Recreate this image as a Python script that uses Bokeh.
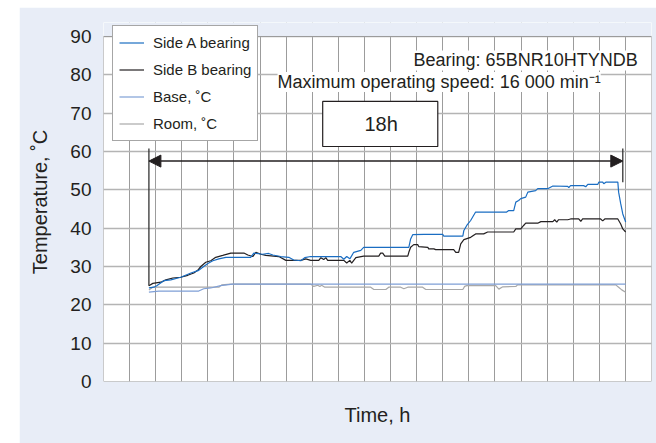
from bokeh.plotting import figure
from bokeh.models import (FixedTicker, Label, Arrow, NormalHead, BoxAnnotation,
                          Legend, LegendItem, Spacer, Range1d)
from bokeh.layouts import row, column
from bokeh.embed import file_html
from bokeh.resources import INLINE

# ---------------- data (time in h, temperature in deg C) ----------------
side_a_t = [1.74, 1.93, 2.04, 2.31, 2.58, 2.96, 3.35, 3.65, 3.84, 4.00,
            4.19, 4.42, 4.69, 5.64, 5.76, 6.10, 6.33, 6.49, 6.79, 7.10,
            7.29, 7.56, 7.71, 7.94, 9.09, 9.21, 9.32, 9.44, 9.59, 9.86,
            9.97, 11.70, 11.77, 11.85, 12.27, 13.00, 13.04, 13.77, 13.81, 13.92,
            14.07, 14.26, 15.45, 15.53, 15.72, 15.80, 15.91, 15.99, 16.18, 16.26,
            16.56, 16.64, 17.02, 17.22, 17.79, 17.83, 17.90, 18.40, 18.48, 18.56,
            18.94, 18.98, 19.13, 19.17, 19.25, 19.71, 19.74, 19.82, 19.90, 20.01]
side_a = [24.4, 24.6, 25.0, 26.3, 26.5, 27.2, 28.3, 29.0, 30.0, 30.8,
          31.5, 32.0, 32.4, 32.4, 33.5, 33.2, 33.4, 33.0, 32.6, 32.4,
          31.7, 31.5, 32.3, 32.6, 32.6, 31.9, 32.6, 32.0, 33.7, 34.2,
          35.0, 35.0, 37.2, 38.3, 38.4, 38.4, 37.9, 37.9, 39.4, 40.7,
          42.0, 44.2, 44.2, 44.6, 44.6, 46.8, 47.2, 47.7, 48.1, 49.4,
          49.8, 50.3, 50.3, 51.0, 50.9, 50.6, 51.1, 51.1, 50.8, 51.4,
          51.4, 52.0, 52.0, 51.6, 52.0, 52.0, 49.4, 46.4, 43.7, 41.6]

side_b_t = [1.74, 1.89, 2.20, 2.39, 2.66, 2.96, 3.23, 3.46, 3.61, 3.73,
            3.92, 4.11, 4.30, 4.57, 4.88, 5.38, 5.53, 5.72, 5.84, 6.03,
            6.22, 6.72, 6.99, 7.56, 7.75, 7.94, 8.25, 8.33, 8.44, 8.52,
            8.59, 9.21, 9.32, 9.44, 9.51, 9.67, 9.97, 10.55, 10.62, 10.70,
            10.78, 11.66, 11.70, 11.77, 11.89, 12.04, 12.08, 12.43, 12.46, 12.66,
            12.73, 13.42, 13.50, 13.61, 13.69, 13.81, 14.07, 14.26, 14.57, 14.72,
            15.72, 15.80, 15.99, 16.10, 16.18, 16.64, 16.76, 17.22, 17.29, 17.37,
            17.44, 17.79, 17.90, 18.21, 18.29, 18.36, 19.05, 19.13, 19.21, 19.71,
            19.82, 19.90, 20.01]
side_b = [25.0, 25.6, 25.9, 26.5, 27.0, 27.2, 27.7, 28.3, 29.0, 30.0,
          31.1, 31.5, 32.4, 32.9, 33.5, 33.5, 33.0, 32.6, 33.7, 33.2,
          32.9, 32.6, 31.6, 31.6, 32.0, 31.6, 31.6, 32.3, 31.8, 32.3,
          31.6, 31.6, 30.9, 31.6, 30.9, 32.3, 32.7, 32.7, 33.5, 33.5,
          32.7, 32.7, 33.7, 35.0, 35.7, 35.7, 35.2, 35.0, 34.6, 34.6,
          34.4, 34.4, 33.7, 33.7, 35.9, 37.0, 37.6, 38.5, 38.5, 39.0,
          39.0, 39.8, 39.8, 40.7, 41.3, 41.3, 41.7, 41.7, 42.2, 41.6,
          42.2, 42.2, 42.4, 42.4, 41.8, 42.4, 42.4, 41.9, 42.4, 42.4,
          41.1, 39.8, 39.0]

base_t = [1.74, 2.12, 3.65, 3.84, 4.11, 4.49, 4.95, 20.01]
base = [23.3, 23.6, 23.6, 24.2, 24.4, 25.0, 25.4, 25.4]

room_t = [1.74, 1.89, 4.42, 4.53, 4.88, 7.94, 8.06, 8.21, 8.29, 8.36,
          8.48, 10.24, 10.36, 10.82, 10.93, 11.39, 11.51, 11.66, 12.23, 12.35,
          13.77, 13.84, 13.92, 15.03, 15.15, 15.30, 15.80, 15.87, 19.63, 19.74,
          19.86, 20.01]
room = [23.9, 24.6, 24.6, 25.2, 25.4, 25.4, 24.8, 25.1, 24.8, 25.1,
        24.6, 24.6, 24.0, 24.0, 24.6, 24.6, 24.2, 24.6, 24.6, 24.0,
        24.0, 24.8, 25.0, 25.0, 24.1, 24.7, 24.8, 25.2, 25.2, 24.6,
        23.9, 23.3]

y_ticks = [0, 10, 20, 30, 40, 50, 60, 70, 80, 90]
y_min, y_max = 0, 90
x_min, x_max = 0, 21
x_grid = list(range(x_min, x_max + 1))
test_start, test_end = 1.74, 19.90
duration_label = "18h"

# ---------------- figure ----------------
TXT = "#231f20"
FONT = "Liberation Sans"
PANEL = "#e8edf7"

# the frame reaches a little above 90 so that the legend box (which sits
# over the top edge of the chart in the original) is not clipped; the
# strip above 90 is painted with the panel colour.
p = figure(width=637, height=436, output_backend="svg", toolbar_location=None,
           x_range=Range1d(x_min, x_max), y_range=Range1d(y_min, 93.65),
           min_border_left=84, min_border_right=5, min_border_top=15,
           min_border_bottom=62)
p.border_fill_color = PANEL
p.background_fill_color = "white"
p.outline_line_color = None

xa = p.xaxis[0]
xa.ticker = FixedTicker(ticks=[])
xa.axis_line_color = None
xa.major_tick_line_color = None
xa.minor_tick_line_color = None
xa.major_tick_out = 0
xa.major_tick_in = 0
xa.major_label_standoff = 0
xa.axis_label = "Time, h"
xa.axis_label_standoff = 22
xa.axis_label_text_font = FONT
xa.axis_label_text_font_size = "20px"
xa.axis_label_text_font_style = "normal"
xa.axis_label_text_color = TXT

p.xgrid.ticker = FixedTicker(ticks=x_grid)
p.xgrid.grid_line_color = "#9c9c9c"
p.xgrid.grid_line_width = 1
p.ygrid.grid_line_color = "#b4b4b4"
p.ygrid.grid_line_width = 1.5

ya = p.yaxis[0]
ya.ticker = FixedTicker(ticks=y_ticks)
ya.axis_line_color = None
ya.major_tick_line_color = None
ya.minor_tick_line_color = None
ya.major_tick_out = 0
ya.major_tick_in = 0
ya.major_label_standoff = 12
ya.major_label_text_font = FONT
ya.major_label_text_font_size = "19px"
ya.major_label_text_color = TXT
ya.axis_label = "Temperature, \u02daC"
ya.axis_label_standoff = 16
ya.axis_label_text_font = FONT
ya.axis_label_text_font_size = "20px"
ya.axis_label_text_font_style = "normal"
ya.axis_label_text_color = TXT

# lines
r_room = p.line(room_t, room, line_color="#a8a8a8", line_width=1.2)
r_base = p.line(base_t, base, line_color="#7f9fd6", line_width=1.2)
r_b = p.line(side_b_t, side_b, line_color=TXT, line_width=1.2)
r_a = p.line(side_a_t, side_a, line_color="#1a6dc2", line_width=1.2)

# cover strip above the top of the chart + chart outline
p.add_layout(BoxAnnotation(bottom=y_max, fill_color=PANEL, fill_alpha=1.0,
                           line_color=None))
p.add_layout(BoxAnnotation(left=x_min, right=x_max, bottom=y_min, top=y_max,
                           fill_alpha=0.0, line_color="#9a9a9a",
                           line_width=1, line_alpha=1.0))

# 18 h bracket
p.segment(x0=[test_start, test_end], y0=[60.8, 60.8],
          x1=[test_start, test_end], y1=[side_b[0], max(side_a)],
          line_color="#333333", line_width=1.3)
p.add_layout(Arrow(x_start=test_start, y_start=57.5, x_end=test_end, y_end=57.5,
                   line_color=TXT, line_width=1.5,
                   start=NormalHead(size=12, fill_color=TXT, line_color=TXT),
                   end=NormalHead(size=12, fill_color=TXT, line_color=TXT)))
p.add_layout(BoxAnnotation(left=8.40, right=12.81, bottom=61.3, top=73.05,
                           fill_color="white", fill_alpha=1.0,
                           line_color=TXT, line_width=1.2, line_alpha=1.0))
p.add_layout(Label(x=10.64, y=67.05, text=duration_label, text_align="center",
                   text_baseline="middle", text_font=FONT,
                   text_font_size="20px", text_color=TXT))

# annotations
p.add_layout(Label(x=20.47, y=83.75, text="Bearing: 65BNR10HTYNDB",
                   text_align="right", text_baseline="alphabetic",
                   text_font=FONT, text_font_size="18px", text_color=TXT,
                   background_fill_color="white", background_fill_alpha=1.0))
p.add_layout(Label(x=6.67, y=78.1, text="Maximum operating speed: 16 000 min\u207b\u00b9",
                   text_align="left", text_baseline="alphabetic",
                   text_font=FONT, text_font_size="18px", text_color=TXT,
                   background_fill_color="white", background_fill_alpha=1.0))

# legend
legend = Legend(items=[LegendItem(label="Side A bearing", renderers=[r_a]),
                       LegendItem(label="Side B bearing", renderers=[r_b]),
                       LegendItem(label="Base, \u02daC", renderers=[r_base]),
                       LegendItem(label="Room, \u02daC", renderers=[r_room])],
                location=(9, 240), margin=0, padding=6, spacing=6,
                label_height=21, glyph_height=21, glyph_width=25,
                label_standoff=9,
                label_text_font=FONT,
                label_text_font_size="15px", label_text_color=TXT,
                border_line_color="#4d4d4d", border_line_width=1,
                background_fill_color="white", background_fill_alpha=1.0)
p.add_layout(legend, "center")

layout = column(Spacer(width=656, height=7),
                row(Spacer(width=19, height=436), p, spacing=0),
                spacing=0)

open("out.html", "w").write(file_html(layout, INLINE))
